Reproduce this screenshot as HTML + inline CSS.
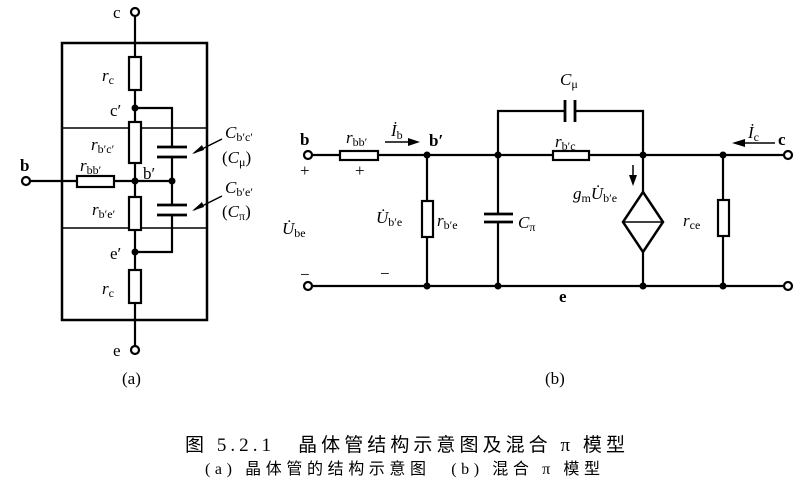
<!DOCTYPE html>
<html><head><meta charset="utf-8"><style>
html,body{margin:0;padding:0;background:#fff;}
svg{display:block;}
text{font-family:"Liberation Serif","Noto Serif CJK SC",serif;fill:#000;}
.i{font-style:italic;}
.cn{font-family:"Liberation Serif","Noto Sans CJK SC",sans-serif;}
</style></head><body>
<svg width="810" height="500" viewBox="0 0 810 500" xmlns="http://www.w3.org/2000/svg">
<g stroke="#000" stroke-width="2.2" fill="none">
<!-- (a) -->
<rect x="62" y="43" width="145" height="277" stroke-width="2.5"/>
<line x1="62" y1="128" x2="207" y2="128" stroke-width="1.5"/>
<line x1="62" y1="228" x2="207" y2="228" stroke-width="1.5"/>
<line x1="135" y1="16" x2="135" y2="57"/>
<rect x="129" y="57" width="12" height="33" fill="#fff"/>
<line x1="135" y1="90" x2="135" y2="122"/>
<rect x="129" y="122" width="12" height="41" fill="#fff"/>
<line x1="135" y1="163" x2="135" y2="197"/>
<rect x="129" y="197" width="12" height="33" fill="#fff"/>
<line x1="135" y1="230" x2="135" y2="270"/>
<rect x="129" y="270" width="12" height="33" fill="#fff"/>
<line x1="135" y1="303" x2="135" y2="346"/>
<line x1="30" y1="181" x2="77" y2="181"/>
<rect x="77" y="176" width="37" height="11" fill="#fff"/>
<line x1="114" y1="181" x2="172" y2="181"/>
<polyline points="135,108 172,108 172,147"/>
<line x1="172" y1="157" x2="172" y2="205"/>
<polyline points="172,215 172,252 135,252"/>
<line x1="157" y1="147" x2="187" y2="147" stroke-width="2.8"/>
<line x1="157" y1="157" x2="187" y2="157" stroke-width="2.8"/>
<line x1="157" y1="205" x2="187" y2="205" stroke-width="2.8"/>
<line x1="157" y1="215" x2="187" y2="215" stroke-width="2.8"/>
<line x1="194" y1="153" x2="222" y2="139" stroke-width="1.5"/>
<line x1="194" y1="210" x2="222" y2="196" stroke-width="1.5"/>
<circle cx="135" cy="12" r="4" fill="#fff"/>
<circle cx="135" cy="350" r="4" fill="#fff"/>
<circle cx="26" cy="181" r="4" fill="#fff"/>
<!-- (b) -->
<line x1="312" y1="155" x2="340" y2="155"/>
<rect x="340" y="151" width="38" height="9" fill="#fff"/>
<line x1="378" y1="155" x2="553" y2="155"/>
<rect x="553" y="151" width="36" height="9" fill="#fff"/>
<line x1="589" y1="155" x2="784" y2="155"/>
<line x1="312" y1="286" x2="784" y2="286"/>
<line x1="427" y1="155" x2="427" y2="201"/>
<rect x="422" y="201" width="11" height="36" fill="#fff"/>
<line x1="427" y1="237" x2="427" y2="286"/>
<line x1="498" y1="155" x2="498" y2="214"/>
<line x1="498" y1="222" x2="498" y2="286"/>
<line x1="484" y1="214" x2="513" y2="214" stroke-width="2.8"/>
<line x1="484" y1="222" x2="513" y2="222" stroke-width="2.8"/>
<polyline points="498,155 498,111 565,111"/>
<polyline points="575,111 643,111 643,192"/>
<line x1="565" y1="100" x2="565" y2="122" stroke-width="2.8"/>
<line x1="575" y1="100" x2="575" y2="122" stroke-width="2.8"/>
<polygon points="643,192 663,222 643,252 623,222" stroke-width="2.5"/>
<line x1="623" y1="222" x2="663" y2="222" stroke-width="1.5"/>
<line x1="643" y1="252" x2="643" y2="286"/>
<line x1="723" y1="155" x2="723" y2="200"/>
<rect x="718" y="200" width="11" height="36" fill="#fff"/>
<line x1="723" y1="236" x2="723" y2="286"/>
<circle cx="308" cy="155" r="4" fill="#fff"/>
<circle cx="308" cy="286" r="4" fill="#fff"/>
<circle cx="788" cy="155" r="4" fill="#fff"/>
<circle cx="788" cy="286" r="4" fill="#fff"/>
<line x1="385" y1="142" x2="412" y2="142" stroke-width="1.5"/>
<line x1="745" y1="143" x2="775" y2="143" stroke-width="1.5"/>
<line x1="633" y1="165" x2="633" y2="178" stroke-width="1.5"/>
</g>
<g fill="#000">
<circle cx="135" cy="108" r="3.5"/><circle cx="135" cy="181" r="3.5"/><circle cx="172" cy="181" r="3.5"/><circle cx="135" cy="252" r="3.5"/>
<circle cx="427" cy="155" r="3.5"/><circle cx="498" cy="155" r="3.5"/><circle cx="643" cy="155" r="3.5"/><circle cx="723" cy="155" r="3.5"/>
<circle cx="427" cy="286" r="3.5"/><circle cx="498" cy="286" r="3.5"/><circle cx="643" cy="286" r="3.5"/><circle cx="723" cy="286" r="3.5"/>
<polygon points="192,154 202,145 204,150"/><polygon points="192,211 202,202 204,207"/>
<polygon points="420,142 408,138 408,146"/>
<polygon points="732,143 745,139 745,147"/>
<polygon points="633,186 629,175 637,175"/>
</g>
<g font-size="17">
<text x="113" y="18">c</text>
<text x="113" y="356">e</text>
<text x="20" y="171" font-weight="bold">b</text>
<text x="110" y="116">c′</text>
<text x="143" y="179">b′</text>
<text x="110" y="259">e′</text>
<text class="i" x="102" y="81">r<tspan font-size="12" dy="3" font-style="normal">c</tspan></text>
<text class="i" x="91" y="150">r<tspan font-size="12" dy="3" font-style="normal">b′c′</tspan></text>
<text class="i" x="80" y="171">r<tspan font-size="12" dy="3" font-style="normal">bb′</tspan></text>
<text class="i" x="92" y="215">r<tspan font-size="12" dy="3" font-style="normal">b′e′</tspan></text>
<text class="i" x="102" y="294">r<tspan font-size="12" dy="3" font-style="normal">c</tspan></text>
<text class="i" x="225" y="138">C<tspan font-size="12" dy="3" font-style="normal">b′c′</tspan></text>
<text x="222" y="163">(<tspan class="i">C</tspan><tspan font-size="12" dy="3">μ</tspan><tspan dy="-3">)</tspan></text>
<text class="i" x="225" y="193">C<tspan font-size="12" dy="3" font-style="normal">b′e′</tspan></text>
<text x="222" y="217">(<tspan class="i">C</tspan><tspan font-size="12" dy="3">π</tspan><tspan dy="-3">)</tspan></text>
<text x="122" y="384">(a)</text>
<text x="545" y="384">(b)</text>
<text x="300" y="145" font-weight="bold">b</text>
<text x="300" y="176">+</text>
<text x="300" y="280">−</text>
<text x="355" y="176">+</text>
<text x="380" y="279">−</text>
<text x="429" y="146" font-weight="bold">b′</text>
<text x="778" y="145" font-weight="bold">c</text>
<text x="559" y="302" font-weight="bold">e</text>
<text class="i" x="346" y="143">r<tspan font-size="12" dy="3" font-style="normal">bb′</tspan></text>
<text class="i" x="391" y="136">İ<tspan font-size="12" dy="3" font-style="normal">b</tspan></text>
<text class="i" x="748" y="138">İ<tspan font-size="12" dy="3" font-style="normal">c</tspan></text>
<text class="i" x="560" y="85">C<tspan font-size="12" dy="3" font-style="normal">μ</tspan></text>
<text class="i" x="555" y="147">r<tspan font-size="12" dy="3" font-style="normal">b′c</tspan></text>
<text class="i" x="282" y="234">U̇<tspan font-size="12" dy="3" font-style="normal">be</tspan></text>
<text class="i" x="376" y="223">U̇<tspan font-size="12" dy="3" font-style="normal">b′e</tspan></text>
<text class="i" x="437" y="226">r<tspan font-size="12" dy="3" font-style="normal">b′e</tspan></text>
<text class="i" x="518" y="228">C<tspan font-size="12" dy="3" font-style="normal">π</tspan></text>
<text class="i" x="573" y="199">g<tspan font-size="12" dy="3" font-style="normal">m</tspan><tspan dy="-3">U̇</tspan><tspan font-size="12" dy="3" font-style="normal">b′e</tspan></text>
<text class="i" x="683" y="226">r<tspan font-size="12" dy="3" font-style="normal">ce</tspan></text>
</g>
<text class="cn" x="185" y="451" font-size="19" textLength="440">图 5.2.1　晶体管结构示意图及混合 π 模型</text>
<text class="cn" x="205" y="474" font-size="16" textLength="395">(a) 晶体管的结构示意图　(b) 混合 π 模型</text>
</svg>
</body></html>
